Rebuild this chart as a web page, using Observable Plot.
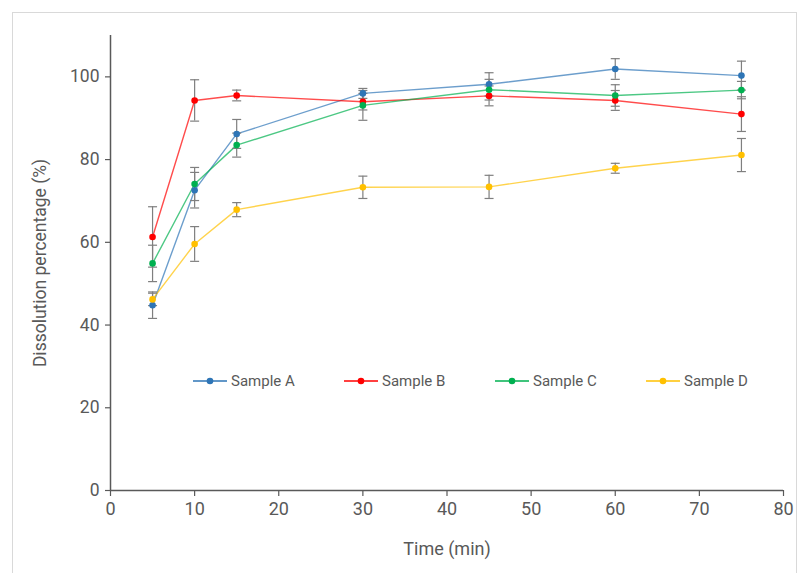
<!DOCTYPE html>
<html>
<head>
<meta charset="utf-8">
<script src="https://cdn.jsdelivr.net/npm/d3@7"></script>
<script src="https://cdn.jsdelivr.net/npm/@observablehq/plot@0.6"></script>
<style>
  body { margin: 0; background: #fff; }
  #wrap { position: relative; width: 804px; height: 573px; overflow: hidden; font-family: Roboto, sans-serif; }
  #frame { position: absolute; left: 12px; top: 12px; width: 785px; height: 600px; border: 1px solid #d9d9d9; box-sizing: border-box; }
  #legend { position: absolute; left: 193px; top: 372px; display: flex; }
  .item { display: flex; align-items: center; width: 151px; font-size: 15px; color: #595959; }
  .item svg { margin-right: 4px; }
</style>
</head>
<body>
<div id="wrap">
  <div id="frame"></div>
  <div id="chart"></div>
  <div id="legend"></div>
</div>
<script>
const times = [5, 10, 15, 30, 45, 60, 75];
const seriesNames = ["Sample A", "Sample B", "Sample C", "Sample D"];
const seriesColors = ["#2E75B6", "#FF0000", "#00B050", "#FFC000"];
const sampleA = [44.8, 72.6, 86.2, 96.0, 98.2, 101.9, 100.3];
const errA    = [3.2, 4.3, 3.5, 1.2, 2.8, 2.5, 3.5];
const sampleB = [61.3, 94.3, 95.5, 94.0, 95.4, 94.3, 91.0];
const errB    = [7.3, 5.0, 1.3, 2.0, 2.4, 2.4, 4.2];
const sampleC = [54.9, 74.1, 83.5, 93.1, 96.9, 95.5, 96.8];
const errC    = [4.4, 4.0, 2.9, 3.6, 2.5, 2.6, 2.1];
const sampleD = [46.2, 59.6, 67.9, 73.3, 73.4, 77.9, 81.1];
const errD    = [1.5, 4.2, 1.7, 2.7, 2.8, 1.2, 4.0];
const xTicks = [0, 10, 20, 30, 40, 50, 60, 70, 80];
const yTicks = [0, 20, 40, 60, 80, 100];

const values = [sampleA, sampleB, sampleC, sampleD];
const errs = [errA, errB, errC, errD];
const data = [];
seriesNames.forEach((name, i) => {
  times.forEach((t, j) => {
    data.push({series: name, time: t, value: values[i][j], lo: values[i][j] - errs[i][j], hi: values[i][j] + errs[i][j]});
  });
});

const capSymbol = {
  draw(context, size) {
    const r = 4.5;
    context.moveTo(-r, 0);
    context.lineTo(r, 0);
  }
};

const gray = "#595959";
const chart = Plot.plot({
  width: 804,
  height: 573,
  marginLeft: 110,
  marginRight: 21,
  marginTop: 35,
  marginBottom: 83,
  style: {fontFamily: "Roboto, sans-serif", fontSize: "17px", color: gray, background: "transparent"},
  x: {domain: [0, 80]},
  y: {domain: [0, 110]},
  color: {domain: seriesNames, range: seriesColors},
  marks: [
    Plot.axisY({ticks: yTicks, tickSize: 5, tickPadding: 6, stroke: gray, strokeWidth: 1.2, label: "Dissolution percentage (%)", labelAnchor: "center", labelArrow: "none", labelOffset: 77, fontSize: 17.5}),
    Plot.axisX({ticks: xTicks, tickSize: 6, tickPadding: 6, stroke: gray, strokeWidth: 1.2, label: "Time (min)", labelAnchor: "center", labelArrow: "none", labelOffset: 64, fontSize: 18}),
    Plot.ruleX([0], {stroke: gray, strokeWidth: 1.5}),
    Plot.ruleY([0], {stroke: gray, strokeWidth: 1.5}),
    Plot.line(data, {x: "time", y: "value", z: "series", stroke: "series", strokeWidth: 1.4, strokeOpacity: 0.7}),
    Plot.ruleX(data, {x: "time", y1: "lo", y2: "hi", stroke: "#7f7f7f", strokeWidth: 1.2}),
    Plot.dot(data, {x: "time", y: "lo", symbol: capSymbol, stroke: "#7f7f7f", strokeWidth: 1.2, fill: "none"}),
    Plot.dot(data, {x: "time", y: "hi", symbol: capSymbol, stroke: "#7f7f7f", strokeWidth: 1.2, fill: "none"}),
    Plot.dot(data, {x: "time", y: "value", fill: "series", r: 3.3})
  ]
});
document.getElementById("chart").appendChild(chart);

const legend = document.getElementById("legend");
seriesNames.forEach((name, i) => {
  const item = document.createElement("div");
  item.className = "item";
  item.innerHTML = `<svg width="34" height="10"><line x1="0" x2="34" y1="5" y2="5" stroke="${seriesColors[i]}" stroke-width="1.4"/><circle cx="17" cy="5" r="3.3" fill="${seriesColors[i]}"/></svg><span>${name}</span>`;
  legend.appendChild(item);
});
</script>
</body>
</html>
